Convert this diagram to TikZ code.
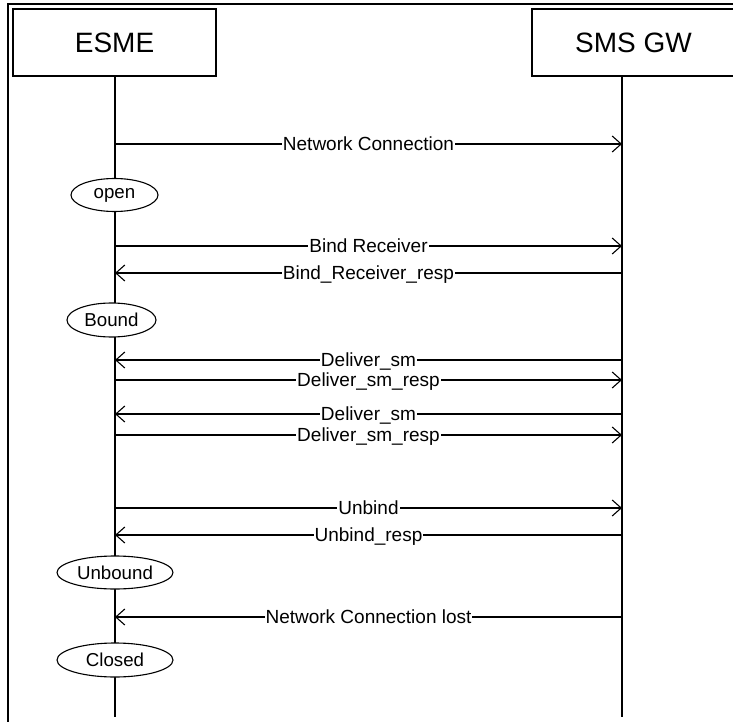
\documentclass[tikz,border=0pt]{standalone}
\usepackage{fontspec}
\setmainfont{Liberation Sans}
\usetikzlibrary{arrows.meta,shapes.geometric}
\tikzset{
  actor/.style={draw, line width=1.1pt, fill=white, minimum width=203pt, minimum height=67pt, inner sep=0pt, font=\fontsize{28}{30}\selectfont},
  lifeline/.style={line width=1.1pt},
  frame/.style={line width=2pt},
  msg/.style={line width=1.1pt, -{Straight Barb[length=9pt,width=16pt,line width=1.1pt]}},
  lbl/.style={fill=white, inner sep=1pt, text height=13.5pt, text depth=0pt, font=\fontsize{19}{21}\selectfont},
  state/.style={draw, ellipse, line width=1.1pt, fill=white, inner sep=0pt, font=\fontsize{18.7}{20}\selectfont}
}
\begin{document}
\begin{tikzpicture}[x=1pt,y=-1pt]
\useasboundingbox (0,0) rectangle (733,722);
% outer frame (top and left edges)
\draw[frame] (8,722) -- (8,4) -- (740,4);

% participants
\node[actor] (esme) at (114.5,42.5) {ESME};
\node[actor] (gw) at (633.5,42.5) {SMS GW};

% lifelines
\coordinate (esmeEnd) at (115,717);
\coordinate (gwEnd) at (622,717);
\draw[lifeline] (esme.south -| esmeEnd) -- (esmeEnd);
\draw[lifeline] (gw.south -| gwEnd) -- (gwEnd);

% message anchor points
\coordinate (e1) at (115,144);  \coordinate (g1) at (622,144);
\coordinate (e2) at (115,246);  \coordinate (g2) at (622,246);
\coordinate (e3) at (115,273);  \coordinate (g3) at (622,273);
\coordinate (e4) at (115,360);  \coordinate (g4) at (622,360);
\coordinate (e5) at (115,380);  \coordinate (g5) at (622,380);
\coordinate (e6) at (115,414);  \coordinate (g6) at (622,414);
\coordinate (e7) at (115,435);  \coordinate (g7) at (622,435);
\coordinate (e8) at (115,508);  \coordinate (g8) at (622,508);
\coordinate (e9) at (115,535);  \coordinate (g9) at (622,535);
\coordinate (e10) at (115,617); \coordinate (g10) at (622,617);

% messages
\draw[msg] (e1) -- (g1) node[midway,lbl] {Network Connection};
\draw[msg] (e2) -- (g2) node[midway,lbl] {Bind Receiver};
\draw[msg] (g3) -- (e3) node[midway,lbl] {Bind\_Receiver\_resp};
\draw[msg] (g4) -- (e4) node[midway,lbl] {Deliver\_sm};
\draw[msg] (e5) -- (g5) node[midway,lbl] {Deliver\_sm\_resp};
\draw[msg] (g6) -- (e6) node[midway,lbl] {Deliver\_sm};
\draw[msg] (e7) -- (g7) node[midway,lbl] {Deliver\_sm\_resp};
\draw[msg] (e8) -- (g8) node[midway,lbl] {Unbind};
\draw[msg] (g9) -- (e9) node[midway,lbl] {Unbind\_resp};
\draw[msg] (g10) -- (e10) node[midway,lbl] {Network Connection lost};

% states on the ESME lifeline
\node[state, minimum width=87pt, minimum height=33pt] (open) at (114.5,195) {open};
\node[state, minimum width=89pt, minimum height=34pt] (bound) at (111.5,320) {Bound};
\node[state, minimum width=116pt, minimum height=33pt] (unbound) at (115,572.5) {Unbound};
\node[state, minimum width=116pt, minimum height=34pt] (closed) at (115,660) {Closed};
\end{tikzpicture}
\end{document}
